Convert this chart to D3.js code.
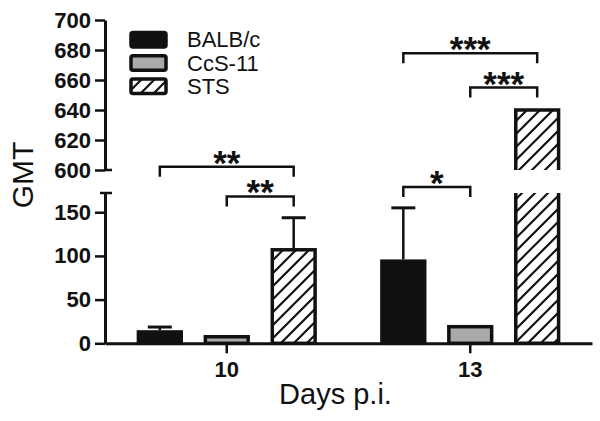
<!DOCTYPE html>
<html>
<head>
<meta charset="utf-8">
<script src="https://cdn.jsdelivr.net/npm/d3@7"></script>
<style>
  body { margin: 0; background: #fff; }
  svg text { font-family: "Liberation Sans", Arial, sans-serif; }
</style>
</head>
<body>
<div id="chart"></div>
<script>
// data
const days = ["10", "13"];
const groups = ["BALB/c", "CcS-11", "STS"];
const balbc = [13, 94];
const ccs11 = [7.5, 19];
const sts = [107, 640];
// upper end of the error bars (0 = no visible error bar)
const balbcErrTop = [18.6, 155];
const ccs11ErrTop = [0, 0];
const stsErrTop = [143.7, 0];
const lowerTicks = [0, 50, 100, 150];
const upperTicks = [600, 620, 640, 660, 680, 700];
const lowerDomain = [0, 172];
const upperDomain = [600, 700];
// significance brackets: day, from group, to group, level (value on lower/upper segment), label
const brackets = [
  { day: "10", from: "BALB/c", to: "STS", seg: "lower", level: 202, label: "**" },
  { day: "10", from: "CcS-11", to: "STS", seg: "lower", level: 168, label: "**" },
  { day: "13", from: "BALB/c", to: "CcS-11", seg: "lower", level: 179, label: "*" },
  { day: "13", from: "BALB/c", to: "STS", seg: "upper", level: 677.8, label: "***" },
  { day: "13", from: "CcS-11", to: "STS", seg: "upper", level: 655, label: "***" }
];

const values = { "BALB/c": balbc, "CcS-11": ccs11, "STS": sts };
const errTops = { "BALB/c": balbcErrTop, "CcS-11": ccs11ErrTop, "STS": stsErrTop };
const fills = { "BALB/c": "#111", "CcS-11": "#aaa", "STS": "url(#hatch)" };

const W = 600, H = 421;
const svg = d3.select("#chart").append("svg")
  .attr("width", W).attr("height", H);
svg.append("rect").attr("width", W).attr("height", H).attr("fill", "#fff");

const defs = svg.append("defs");
const pat = defs.append("pattern")
  .attr("id", "hatch")
  .attr("patternUnits", "userSpaceOnUse")
  .attr("width", 13).attr("height", 13);
pat.append("rect").attr("width", 13).attr("height", 13).attr("fill", "#fff");
pat.append("path")
  .attr("d", "M-3.25,3.25 l6.5,-6.5 M0,13 l13,-13 M9.75,16.25 l6.5,-6.5")
  .attr("stroke", "#111").attr("stroke-width", 2.2);

const axisLeftX = 105, axisRightX = 592, baseY = 343.3;

const x = d3.scaleBand().domain(days).range([axisLeftX, axisRightX])
  .paddingInner(0.26).paddingOuter(0.13);
const xInner = d3.scaleBand().domain(groups).range([0, x.bandwidth()])
  .paddingInner(0.308);
const yLower = d3.scaleLinear().domain(lowerDomain).range([baseY, 193]);
const yUpper = d3.scaleLinear().domain(upperDomain).range([170, 20]);

const ink = "#111";
const sw = 3.5;

// bars
days.forEach((day, di) => {
  groups.forEach(g => {
    const v = values[g][di];
    const x0 = x(day) + xInner(g) + sw / 2;
    const x1 = x(day) + xInner(g) + xInner.bandwidth() - sw / 2;
    const cx = (x0 + x1) / 2;
    let top;
    if (v <= lowerDomain[1]) {
      top = yLower(v);
      svg.append("rect")
        .attr("x", x0).attr("y", top)
        .attr("width", x1 - x0).attr("height", baseY - top)
        .attr("fill", fills[g]).attr("stroke", ink).attr("stroke-width", sw);
    } else {
      // broken bar: lower part open at top, upper part open at bottom
      const lt = yLower(lowerDomain[1]);
      svg.append("rect").attr("x", x0).attr("y", lt)
        .attr("width", x1 - x0).attr("height", baseY - lt).attr("fill", fills[g]);
      svg.append("path")
        .attr("d", `M${x0},${lt}L${x0},${baseY}L${x1},${baseY}L${x1},${lt}`)
        .attr("fill", "none").attr("stroke", ink).attr("stroke-width", sw);
      top = yUpper(v);
      const ub = yUpper(upperDomain[0]);
      svg.append("rect").attr("x", x0).attr("y", top)
        .attr("width", x1 - x0).attr("height", ub - top).attr("fill", fills[g]);
      svg.append("path")
        .attr("d", `M${x0},${ub}L${x0},${top}L${x1},${top}L${x1},${ub}`)
        .attr("fill", "none").attr("stroke", ink).attr("stroke-width", sw);
    }
    const e = errTops[g][di];
    if (e > 0) {
      const ey = yLower(e);
      svg.append("line")
        .attr("x1", cx).attr("x2", cx).attr("y1", top - sw / 2).attr("y2", ey)
        .attr("stroke", ink).attr("stroke-width", 2.5);
      svg.append("line")
        .attr("x1", cx - 12).attr("x2", cx + 12).attr("y1", ey).attr("y2", ey)
        .attr("stroke", ink).attr("stroke-width", 3);
    }
  });
});

// axes
function styleAxis(g) {
  g.attr("font-family", null);
  g.select(".domain").attr("stroke", ink).attr("stroke-width", 3);
  g.selectAll(".tick line").attr("stroke", ink).attr("stroke-width", 2.5);
  g.selectAll(".tick text").attr("fill", ink)
    .style("font-size", "22px").style("font-weight", "bold");
}

svg.append("g")
  .attr("transform", `translate(${axisLeftX},0)`)
  .call(d3.axisLeft(yLower).tickValues(lowerTicks).tickSize(10).tickSizeOuter(0).tickPadding(4))
  .call(styleAxis);

svg.append("g")
  .attr("transform", `translate(${axisLeftX},0)`)
  .call(d3.axisLeft(yUpper).tickValues(upperTicks).tickSize(10).tickSizeOuter(0).tickPadding(4))
  .call(styleAxis);

// break marks
svg.append("line").attr("x1", axisLeftX).attr("x2", axisLeftX + 7)
  .attr("y1", yUpper(600)).attr("y2", yUpper(600)).attr("stroke", ink).attr("stroke-width", 2.5);
svg.append("line").attr("x1", axisLeftX - 5).attr("x2", axisLeftX + 7)
  .attr("y1", yLower(lowerDomain[1])).attr("y2", yLower(lowerDomain[1]))
  .attr("stroke", ink).attr("stroke-width", 2.5);

svg.append("g")
  .attr("transform", `translate(0,${baseY})`)
  .call(d3.axisBottom(x).tickSize(10).tickSizeOuter(0).tickPadding(8))
  .call(styleAxis);

// significance brackets
brackets.forEach(b => {
  const xa = x(b.day) + xInner(b.from) + xInner.bandwidth() / 2;
  const xb = x(b.day) + xInner(b.to) + xInner.bandwidth() / 2;
  const yy = b.seg === "lower" ? yLower(b.level) : yUpper(b.level);
  svg.append("path")
    .attr("d", `M${xa},${yy + 10}L${xa},${yy}L${xb},${yy}L${xb},${yy + 10}`)
    .attr("fill", "none").attr("stroke", ink).attr("stroke-width", 2.5);
  svg.append("text")
    .attr("x", (xa + xb) / 2).attr("y", yy + 8)
    .attr("text-anchor", "middle")
    .style("font-size", "35px").style("font-weight", "bold")
    .attr("fill", ink)
    .text(b.label);
});

// legend
const legend = svg.append("g");
groups.forEach((g, i) => {
  legend.append("rect")
    .attr("x", 131).attr("y", 32.5 + i * 23.3)
    .attr("width", 35).attr("height", 14.5).attr("rx", 2)
    .attr("fill", fills[g]).attr("stroke", ink).attr("stroke-width", sw);
  legend.append("text")
    .attr("x", 187).attr("y", 46.7 + i * 23.8)
    .style("font-size", "22px").attr("fill", ink)
    .text(g);
});

// axis titles
svg.append("text")
  .attr("transform", "translate(33,175) rotate(-90)")
  .attr("text-anchor", "middle")
  .style("font-size", "30px").attr("fill", ink)
  .text("GMT");

svg.append("text")
  .attr("x", 335.5).attr("y", 404)
  .attr("text-anchor", "middle")
  .style("font-size", "29px").attr("fill", ink)
  .text("Days p.i.");
</script>
</body>
</html>
